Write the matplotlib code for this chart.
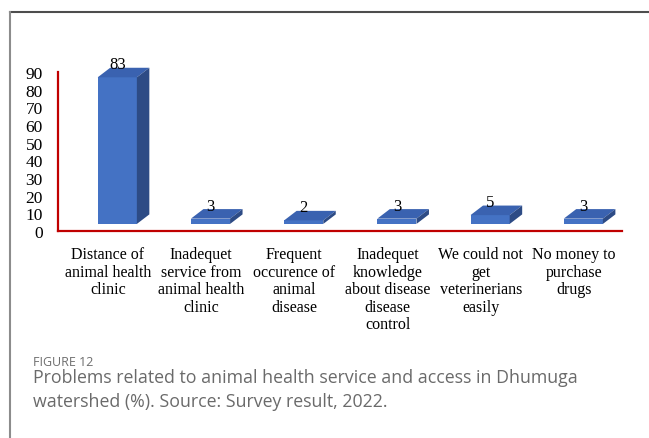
import matplotlib
matplotlib.use("Agg")
from matplotlib import pyplot as plt
from matplotlib.patches import Polygon, Rectangle
from matplotlib.lines import Line2D

categories = [
    "Distance of\nanimal health\nclinic",
    "Inadequet\nservice from\nanimal health\nclinic",
    "Frequent\noccurence of\nanimal\ndisease",
    "Inadequet\nknowledge\nabout disease\ndisease\ncontrol",
    "We could not\nget\nveterinerians\neasily",
    "No money to\npurchase\ndrugs",
]
values = [83, 3, 2, 3, 5, 3]
yticks = list(range(0, 100, 10))

caption_label = "FIGURE 12"
caption_text = ("Problems related to animal health service and access in Dhumuga\n"
                "watershed (%). Source: Survey result, 2022.")

W, H = 649, 439
fig = plt.figure(figsize=(W / 100, H / 100), dpi=100)

serif = ["Liberation Serif", "DejaVu Serif"]
red = "#c00000"
front_col = "#4472c4"
top_col = "#3a62b0"
side_col = "#2d4b85"

# plot area in pixels: x 58..622, y 73(=90)..232(=0)
ax = fig.add_axes([58 / W, (H - 232) / H, (622 - 58) / W, (232 - 73) / H])
ax.set_xlim(-0.536, 5.515)
ax.set_ylim(0, 90)
for s in ["top", "right"]:
    ax.spines[s].set_visible(False)
for s in ["left", "bottom"]:
    ax.spines[s].set_color(red)
    ax.spines[s].set_linewidth(1.6)
ax.set_yticks(yticks)
ax.set_yticklabels([str(t) for t in yticks], fontfamily=serif, fontsize=12.5)
ax.tick_params(axis="y", length=0, pad=11)
ax.set_xticks(range(len(categories)))
ax.set_xticklabels(categories, fontfamily=serif, fontsize=11.5, linespacing=1.12,
                   va="top")
ax.tick_params(axis="x", length=0, pad=11)

# pseudo-3D bars: front face, top face, right side face
base = 4.0
off = -0.11
bw = 0.42
dx = 0.134
dy = 5.4
for i, v in enumerate(values):
    x0 = i + off
    x1 = x0 + bw
    y1 = base + v
    ax.add_patch(Rectangle((x0, base), bw, v, facecolor=front_col,
                           edgecolor="none", clip_on=False, zorder=3))
    ax.add_patch(Polygon([(x0, y1), (x1, y1), (x1 + dx, y1 + dy), (x0 + dx, y1 + dy)],
                         closed=True, facecolor=top_col, edgecolor="none",
                         clip_on=False, zorder=3))
    ax.add_patch(Polygon([(x1, base), (x1 + dx, base + dy), (x1 + dx, y1 + dy), (x1, y1)],
                         closed=True, facecolor=side_col, edgecolor="none",
                         clip_on=False, zorder=3))
    ax.text((x0 + x1) / 2, y1 + dy - 0.3, str(v), ha="center", va="baseline",
            fontfamily=serif, fontsize=12, color="black", clip_on=False, zorder=4)

# frame around the figure panel
fig.add_artist(Line2D([10 / W, 1], [1 - 13 / H, 1 - 13 / H], transform=fig.transFigure,
                      color="#4d4d4d", linewidth=1.5))
fig.add_artist(Line2D([10 / W, 10 / W], [0, 1 - 13 / H], transform=fig.transFigure,
                      color="#8c8c8c", linewidth=1.5))

sans = ["Open Sans", "DejaVu Sans"]
fig.text(33 / W, 1 - 363 / H, caption_label, fontfamily=sans, fontsize=9,
         color="#6e6e6e", va="center", ha="left")
fig.text(33 / W, 1 - 369 / H, caption_text, fontfamily=sans, fontsize=12.8,
         color="#6a6a6a", va="top", ha="left", linespacing=1.4)

fig.savefig("out.png", dpi=100)
